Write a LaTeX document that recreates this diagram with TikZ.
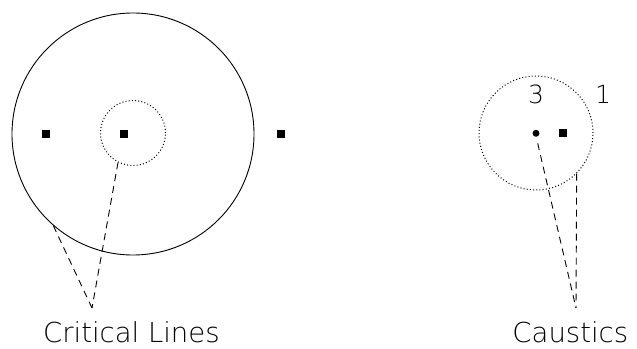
\documentclass[tikz,border=0pt]{standalone}
\usepackage{fontspec}
\newfontfamily\hfont{DejaVu Sans ExtraLight}
\begin{document}
\begin{tikzpicture}[x=1pt,y=-1pt,
  ring/.style={circle,draw,line width=0.9pt,inner sep=0pt},
  dotring/.style={circle,draw,line width=1pt,inner sep=0pt,dash pattern=on 1pt off 2.2pt},
  sq/.style={rectangle,fill=black,inner sep=0pt,minimum size=8pt},
  pt/.style={circle,fill=black,inner sep=0pt,minimum size=7pt},
  lead/.style={line width=0.9pt,dash pattern=on 7pt off 5pt},
  lbl/.style={font=\hfont\fontsize{27.5}{30}\selectfont,inner sep=0pt,anchor=base},
  num/.style={font=\hfont\fontsize{25}{28}\selectfont,inner sep=0pt,anchor=base}]
\useasboundingbox (0,0) rectangle (637,348);
% critical lines
\node[ring,minimum size=242pt] (big) at (133,134) {};
\node[dotring,minimum size=65pt] (small) at (133,133) {};
\node[sq] (s1) at (46,133.7) {};
\node[sq] (s2) at (123.7,133.7) {};
\node[sq] (s3) at (281,133.7) {};
\coordinate (apexL) at (92,308);
\draw[lead] (big.229) -- (apexL);
\draw[lead] (small.243) -- (apexL);
\node[lbl] (cl) at (131.4,342) {Critical Lines};
% caustics
\node[dotring,minimum size=114pt] (caus) at (536,133) {};
\node[pt] (d3) at (536,133.3) {};
\node[sq] (s4) at (563.3,133.3) {};
\node[num] (n3) at (536,103) {3};
\node[num] (n1) at (603,103) {1};
\coordinate (apexR) at (576,308);
\draw[lead] ([shift={(1.7,10)}]d3.center) -- (apexR);
\draw[lead] (caus.315) -- (apexR);
\node[lbl] (ca) at (570.3,342.5) {Caustics};
\end{tikzpicture}
\end{document}
